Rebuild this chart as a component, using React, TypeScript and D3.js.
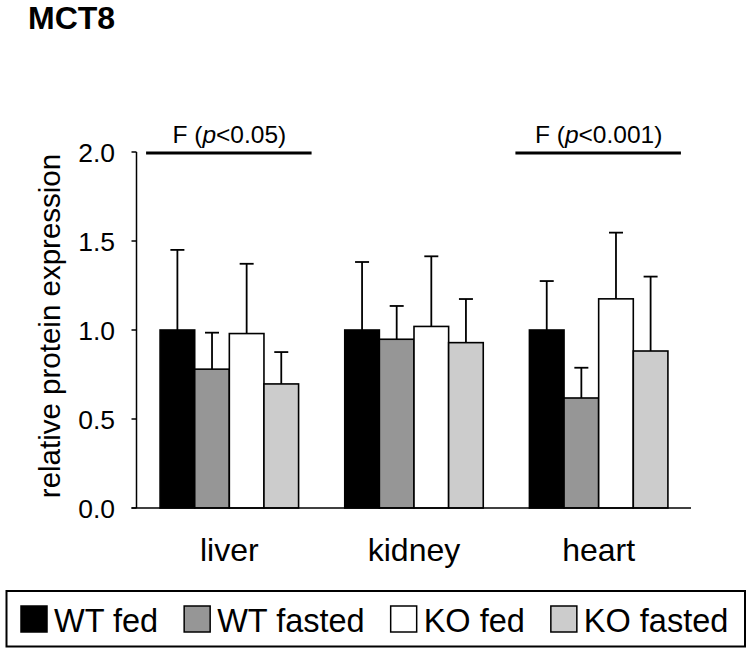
import React, { useEffect, useRef } from "react";
import * as d3 from "d3";

const categories = ["liver", "kidney", "heart"];
const seriesNames = ["WT fed", "WT fasted", "KO fed", "KO fasted"];
const seriesColors = ["#000000", "#969696", "#ffffff", "#cccccc"];
// mean values per series (liver, kidney, heart)
const wtFed = [1.0, 1.0, 1.0];
const wtFasted = [0.78, 0.948, 0.618];
const koFed = [0.98, 1.02, 1.175];
const koFasted = [0.697, 0.929, 0.882];
// upper error (SD) per series
const wtFedErr = [0.45, 0.382, 0.275];
const wtFastedErr = [0.205, 0.187, 0.17];
const koFedErr = [0.392, 0.394, 0.372];
const koFastedErr = [0.179, 0.245, 0.418];
const yTicks = [0, 0.5, 1.0, 1.5, 2.0];
const sigLabels = [
  { cat: "liver", p: "<0.05)" },
  { cat: "heart", p: "<0.001)" },
];

const values = [wtFed, wtFasted, koFed, koFasted];
const errors = [wtFedErr, wtFastedErr, koFedErr, koFastedErr];

const FONT = "'Liberation Sans', Arial, Helvetica, sans-serif";

export default function App() {
  const ref = useRef<SVGSVGElement>(null);
  useEffect(() => {
    const svg = d3.select(ref.current);
    svg.selectAll("*").remove();

    const x = d3
      .scaleBand<string>()
      .domain(categories)
      .range([137, 691])
      .paddingInner(0.25)
      .paddingOuter(0.125);
    const xs = d3
      .scaleBand<string>()
      .domain(seriesNames)
      .range([0, x.bandwidth()])
      .padding(0);
    const y = d3.scaleLinear().domain([0, 2]).range([508, 152]);

    // Title
    svg
      .append("text")
      .attr("x", 28)
      .attr("y", 29)
      .attr("font-family", FONT)
      .attr("font-weight", "bold")
      .attr("font-size", 32)
      .text("MCT8");

    // Bars
    const g = svg.append("g");
    seriesNames.forEach((s, si) => {
      categories.forEach((c, ci) => {
        const v = values[si][ci];
        const e = errors[si][ci];
        const bx = (x(c) as number) + (xs(s) as number);
        const cx = bx + xs.bandwidth() / 2;
        g.append("line")
          .attr("x1", cx)
          .attr("x2", cx)
          .attr("y1", y(v))
          .attr("y2", y(v + e))
          .attr("stroke", "#000")
          .attr("stroke-width", 1.8);
        g.append("line")
          .attr("x1", cx - 7)
          .attr("x2", cx + 7)
          .attr("y1", y(v + e))
          .attr("y2", y(v + e))
          .attr("stroke", "#000")
          .attr("stroke-width", 1.8);
        g.append("rect")
          .attr("x", bx)
          .attr("y", y(v))
          .attr("width", xs.bandwidth())
          .attr("height", y(0) - y(v))
          .attr("fill", seriesColors[si])
          .attr("stroke", "#000")
          .attr("stroke-width", 1.6);
      });
    });

    // Y axis
    svg
      .append("line")
      .attr("x1", 136.5)
      .attr("x2", 136.5)
      .attr("y1", y(0))
      .attr("y2", y(2))
      .attr("stroke", "#000")
      .attr("stroke-width", 1.5);
    yTicks.forEach((t) => {
      svg
        .append("line")
        .attr("x1", 131.5)
        .attr("x2", 136.5)
        .attr("y1", y(t))
        .attr("y2", y(t))
        .attr("stroke", "#000")
        .attr("stroke-width", 1.5);
      svg
        .append("text")
        .attr("x", 115)
        .attr("y", y(t) + 9.5)
        .attr("text-anchor", "end")
        .attr("font-family", FONT)
        .attr("font-size", 26.5)
        .text(d3.format(".1f")(t));
    });
    // X axis baseline
    svg
      .append("line")
      .attr("x1", 131.5)
      .attr("x2", 691)
      .attr("y1", y(0))
      .attr("y2", y(0))
      .attr("stroke", "#000")
      .attr("stroke-width", 1.5);

    // Category labels
    categories.forEach((c) => {
      svg
        .append("text")
        .attr("x", (x(c) as number) + x.bandwidth() / 2)
        .attr("y", 561)
        .attr("text-anchor", "middle")
        .attr("font-family", FONT)
        .attr("font-size", 32)
        .text(c);
    });

    // Y label
    svg
      .append("text")
      .attr("transform", `translate(60,326) rotate(-90)`)
      .attr("text-anchor", "middle")
      .attr("font-family", FONT)
      .attr("font-size", 29.5)
      .text("relative protein expression");

    // Significance annotations
    sigLabels.forEach((sg) => {
      const x0 = x(sg.cat) as number;
      svg
        .append("line")
        .attr("x1", x0 - 14)
        .attr("x2", x0 + x.bandwidth() + 13)
        .attr("y1", y(2) + 1)
        .attr("y2", y(2) + 1)
        .attr("stroke", "#000")
        .attr("stroke-width", 2.8);
      const t = svg
        .append("text")
        .attr("x", x0 + x.bandwidth() / 2)
        .attr("y", 143)
        .attr("text-anchor", "middle")
        .attr("font-family", FONT)
        .attr("font-size", 24.5);
      t.append("tspan").text("F (");
      t.append("tspan").attr("font-style", "italic").text("p");
      t.append("tspan").text(sg.p);
    });

    // Legend
    svg
      .append("rect")
      .attr("x", 6.5)
      .attr("y", 591)
      .attr("width", 738.5)
      .attr("height", 55.5)
      .attr("fill", "#fff")
      .attr("stroke", "#000")
      .attr("stroke-width", 2);
    let lx = 21;
    seriesNames.forEach((s, si) => {
      svg
        .append("rect")
        .attr("x", lx)
        .attr("y", 606)
        .attr("width", 26)
        .attr("height", 26)
        .attr("fill", seriesColors[si])
        .attr("stroke", "#000")
        .attr("stroke-width", 1.5);
      const t = svg
        .append("text")
        .attr("x", lx + 33)
        .attr("y", 632)
        .attr("font-family", FONT)
        .attr("font-size", 32.5)
        .text(s);
      const w = (t.node() as SVGTextElement).getComputedTextLength();
      lx = lx + 33 + w + 26;
    });
  }, []);

  return (
    <svg
      ref={ref}
      width={752}
      height={654}
      style={{ position: "absolute", left: 0, top: 0, background: "#fff" }}
    />
  );
}
